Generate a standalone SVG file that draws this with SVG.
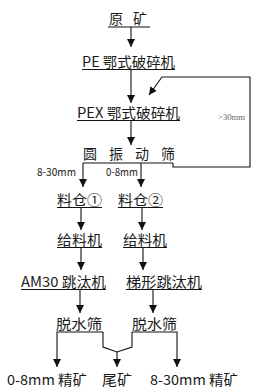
<svg xmlns="http://www.w3.org/2000/svg" width="267" height="391" viewBox="0 0 267 391">
<style>
.t{font-family:"Noto Sans CJK SC","DejaVu Sans",sans-serif;font-size:14px;fill:#1a1a1a}
.s{font-family:"Noto Sans CJK SC","DejaVu Sans",sans-serif;font-size:11px;fill:#1a1a1a}
.g{font-family:"Liberation Serif",serif;font-size:9px;fill:#666}
.u{stroke:#111;stroke-width:1.1;fill:none}
.c{stroke:#111;stroke-width:1.1;fill:none}
.a{marker-end:url(#ah)}
</style>
<defs>
<marker id="ah" viewBox="0 0 10 10" refX="10" refY="5" markerWidth="8" markerHeight="8" markerUnits="userSpaceOnUse" orient="auto">
<path d="M0,0 L10,5 L0,10 Z" fill="#111"/>
</marker>
</defs>
<rect width="267" height="391" fill="#fff"/>
<g id="n-yuankuang"><text class="t" x="109" y="24" textLength="38" lengthAdjust="spacing">原 矿</text><line class="u" x1="108" y1="27" x2="150" y2="27"/></g>
<g id="n-pe"><text class="t" x="82" y="67" textLength="93" lengthAdjust="spacingAndGlyphs">PE 鄂式破碎机</text><line class="u" x1="82" y1="69.5" x2="175" y2="69.5"/></g>
<g id="n-pex"><text class="t" x="77" y="118" textLength="103" lengthAdjust="spacingAndGlyphs">PEX 鄂式破碎机</text><line class="u" x1="77" y1="120.5" x2="180" y2="120.5"/></g>
<g id="n-screen"><text class="t" x="83" y="159" textLength="92" lengthAdjust="spacing">圆 振 动 筛</text><line class="u" x1="83" y1="163" x2="173" y2="163"/></g>
<g id="n-bin1"><text class="t" x="57" y="205" textLength="45" lengthAdjust="spacingAndGlyphs">料仓①</text><line class="u" x1="57" y1="207.5" x2="102" y2="207.5"/></g>
<g id="n-bin2"><text class="t" x="118" y="205" textLength="45" lengthAdjust="spacingAndGlyphs">料仓②</text><line class="u" x1="118" y1="207.5" x2="163" y2="207.5"/></g>
<g id="n-feed1"><text class="t" x="57" y="245" textLength="45" lengthAdjust="spacingAndGlyphs">给料机</text><line class="u" x1="57" y1="247.5" x2="102" y2="247.5"/></g>
<g id="n-feed2"><text class="t" x="123" y="245" textLength="44" lengthAdjust="spacingAndGlyphs">给料机</text><line class="u" x1="123" y1="247.5" x2="167" y2="247.5"/></g>
<g id="n-jig1"><text class="t" x="21" y="287" textLength="85" lengthAdjust="spacingAndGlyphs">AM30 跳汰机</text><line class="u" x1="21" y1="289.5" x2="106" y2="289.5"/></g>
<g id="n-jig2"><text class="t" x="126" y="287" textLength="76" lengthAdjust="spacingAndGlyphs">梯形跳汰机</text><line class="u" x1="126" y1="289.5" x2="202" y2="289.5"/></g>
<g id="n-dw1"><text class="t" x="56" y="329" textLength="46" lengthAdjust="spacingAndGlyphs">脱水筛</text></g>
<g id="n-dw2"><text class="t" x="132" y="329" textLength="45" lengthAdjust="spacingAndGlyphs">脱水筛</text></g>
<g id="n-c1"><text class="t" x="7" y="385" textLength="80" lengthAdjust="spacingAndGlyphs">0-8mm 精矿</text></g>
<g id="n-tail"><text class="t" x="102" y="385" textLength="30" lengthAdjust="spacingAndGlyphs">尾矿</text></g>
<g id="n-c2"><text class="t" x="150" y="385" textLength="88" lengthAdjust="spacingAndGlyphs">8-30mm 精矿</text></g>
<g id="connectors">
<line class="c a" x1="131" y1="27" x2="131" y2="47"/>
<line class="c a" x1="131" y1="69.5" x2="131" y2="103"/>
<line class="c a" x1="131" y1="120.5" x2="131" y2="145"/>
<polyline class="c a" points="173,163 173,167 250,167 250,77 162,77 149,95"/>
<line class="c a" x1="83" y1="163" x2="83" y2="187"/>
<line class="c a" x1="141" y1="163" x2="141" y2="187"/>
<line class="c a" x1="81" y1="207.5" x2="81" y2="230"/>
<line class="c a" x1="142" y1="207.5" x2="142" y2="230"/>
<line class="c a" x1="81" y1="247.5" x2="81" y2="270"/>
<line class="c a" x1="143" y1="247.5" x2="143" y2="270"/>
<line class="c a" x1="80" y1="289.5" x2="80" y2="313"/>
<line class="c a" x1="153" y1="289.5" x2="153" y2="313"/>
<polyline class="c a" points="103,332 57,332 57,367"/>
<polyline class="c a" points="132,332 177,332 177,367"/>
<polyline class="c" points="103,332 103,347 117,352 132,347 132,332"/>
<line class="c a" x1="117" y1="352" x2="117" y2="367"/>
</g>
<g id="labels">
<text class="s" x="37" y="176" textLength="39" lengthAdjust="spacingAndGlyphs">8-30mm</text>
<text class="s" x="106" y="176" textLength="32" lengthAdjust="spacingAndGlyphs">0-8mm</text>
<text class="g" x="218" y="120" textLength="27" lengthAdjust="spacingAndGlyphs">&gt;30mm</text>
</g>
</svg>
